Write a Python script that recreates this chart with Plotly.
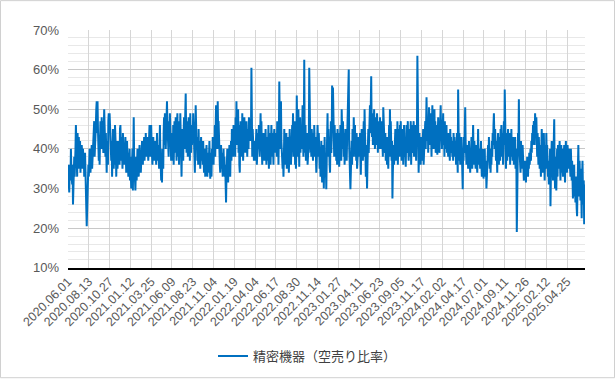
import plotly.graph_objects as go

tick_labels = ["2020.06.01", "2020.08.13", "2020.10.27", "2021.01.12", "2021.03.25",
               "2021.06.09", "2021.08.23", "2021.11.04", "2022.01.19", "2022.04.04",
               "2022.06.17", "2022.08.30", "2022.11.14", "2023.01.27", "2023.04.11",
               "2023.06.23", "2023.09.05", "2023.11.17", "2024.02.02", "2024.04.17",
               "2024.07.01", "2024.09.11", "2024.11.26", "2025.02.12", "2025.04.25"]

series_name = "精密機器（空売り比率）"

# short-selling ratio (%), one value per trading day
short_ratio = [
    # 2020.06.01 -
    33, 36, 31, 29, 34, 36, 32, 40, 35, 33,
    31, 36, 26, 30, 34, 38, 33, 35, 40, 46,
    42, 37, 33, 44, 39, 35, 43, 38, 36, 42,
    34, 40, 37, 41, 39, 35, 40, 37, 38, 33,
    36, 39, 28, 31, 25, 20.5, 27, 30, 33, 36,
    # 2020.08.13 -
    33, 36, 40, 38, 34, 39, 37, 41, 35, 38,
    42, 40, 45, 47, 38, 44, 41, 46, 50, 52,
    44, 52, 45, 40, 37, 43, 36, 42, 47, 44,
    40, 48, 43, 47, 41, 39, 45, 50, 46, 42,
    38, 44, 40, 34, 42, 39, 36, 47, 49, 44,
    # 2020.10.27 -
    49, 46, 43, 40, 37, 42, 33, 39, 45, 38,
    35, 41, 36, 46, 44, 40, 33, 38, 42, 35,
    39, 37, 42, 40, 36, 45, 46, 41, 37, 43,
    39, 35, 44, 38, 41, 36, 40, 37, 43, 39,
    34, 38, 42, 36, 39, 33, 37, 35, 40, 32,
    # 2021.01.12 -
    38, 34, 30, 36, 33, 40, 29.5, 35, 48, 38,
    31, 36, 29.5, 34, 38, 32, 36, 40, 35, 38,
    33, 37, 41, 36, 39, 34, 40, 37, 42, 38,
    36, 41, 39, 43, 37, 40, 38, 44, 39, 41,
    38, 43, 40, 37, 42, 39, 46, 41, 38, 43,
    # 2021.03.25 -
    46, 41, 38, 36, 40, 43, 39, 37, 41, 38,
    42, 40, 36, 39, 44, 38, 41, 37, 39, 35,
    43, 46, 39, 34, 32, 36, 31.5, 40, 38, 35,
    44, 48, 41, 49, 45, 40, 47, 50, 52, 46,
    41, 44, 38, 47, 43, 49, 40, 46, 37, 42,
    # 2021.06.09 -
    40, 44, 37, 46, 36, 41, 47, 39, 45, 48,
    42, 37, 46, 49, 41, 38, 44, 36, 47, 40,
    49, 43, 38, 33, 41, 45, 39, 37, 44, 48,
    40, 46, 42, 54, 45, 39, 47, 41, 38, 43,
    48, 40, 45, 37, 49, 42, 39, 46, 41, 44,
    # 2021.08.23 -
    44, 49, 41, 45, 38, 34, 43, 51, 46, 40,
    43, 37, 41, 36, 45, 39, 42, 38, 35, 40,
    43, 37, 41, 39, 36, 42, 38, 34, 40, 37,
    33, 38, 35, 41, 37, 33, 39, 36, 34, 38,
    42, 36, 32.5, 39, 35, 33, 40, 37, 43, 41,
    # 2021.11.04 -
    36, 42, 39, 46, 38, 45, 51, 43, 48, 40,
    52, 44, 47, 39, 42, 36, 34, 38, 41, 35,
    39, 36, 33, 37, 40, 35, 38, 33, 36, 31,
    26.5, 33, 37, 40, 35, 31.5, 38, 36, 41, 37,
    33, 39, 42, 37, 45, 40, 43, 38, 46, 41,
    # 2022.01.19 -
    40, 45, 38, 48, 43, 52, 41, 47, 44, 50,
    39, 46, 36, 34, 42, 47, 40, 45, 38, 49,
    43, 37, 46, 41, 48, 44, 39, 45, 42, 47,
    41, 38, 45, 43, 40, 48, 44, 47, 42, 46,
    45, 60.5, 42, 38, 45, 40, 44, 37, 42, 41,
    # 2022.04.04 -
    37, 43, 39, 45, 36, 41, 38, 44, 40, 46,
    42, 38, 45, 49, 41, 47, 40, 36, 43, 39,
    44, 40, 37, 42, 38, 45, 41, 36, 39, 43,
    37, 41, 46, 35, 40, 38, 44, 36, 41, 46,
    42, 38, 44, 40, 36, 43, 45, 39, 44, 41,
    # 2022.06.17 -
    41, 44, 38, 47, 40, 45, 36, 43, 57, 46,
    40, 44, 52, 42, 38, 41, 35, 39, 33, 37,
    45, 39, 36, 42, 38, 44, 35, 40, 37, 43,
    39, 34, 41, 45, 38, 42, 36, 44, 40, 46,
    42, 49, 38, 44, 40, 47, 36, 43, 35, 39,
    # 2022.08.30 -
    53.5, 44, 38, 46, 50, 41, 35.5, 44, 48, 39,
    45, 42, 40, 47, 51, 43, 38, 45, 62.5, 44,
    39, 46, 37, 41, 42, 44, 36, 40, 38, 42,
    60.5, 43, 46, 39, 41, 38, 45, 40, 43, 37,
    44, 39, 46, 41, 38, 43, 40, 34, 37, 40,
    # 2022.11.14 -
    46, 42, 38, 44, 39, 35, 40, 33, 37, 42,
    36, 31.5, 38, 34, 41, 30, 36, 43, 33, 39,
    35, 29.8, 37, 44, 49, 40, 45, 38, 41, 36,
    34, 42, 47, 39, 43, 56, 45, 55.5, 41, 44,
    38, 46, 41, 39, 44, 37, 42, 36, 45, 40,
    # 2023.01.27 -
    39, 44, 35.5, 41, 38, 46, 42, 37, 50, 45,
    40, 47, 43, 38, 44, 36, 41, 45, 39, 43,
    37, 42, 48, 44, 51, 60, 41, 38, 35, 29.8,
    34, 39, 42, 36, 45, 41, 38, 48, 43, 40,
    46, 38, 42, 37, 44, 35, 40, 36, 41, 43,
    # 2023.04.11 -
    41, 38, 44, 36, 33.5, 40, 45, 39, 43, 37,
    42, 47, 38, 50, 44, 40, 33, 41, 37, 30,
    36, 42, 45, 39, 43, 47, 51, 44, 49, 58.3,
    46, 43, 49, 41, 47, 44, 50, 45, 40, 48,
    43, 46, 41, 49, 44, 39, 47, 42, 45, 40,
    # 2023.06.23 -
    48, 44, 46, 40, 47, 42, 45, 38, 50.5, 43,
    46, 41, 39, 44, 37, 42, 40, 36, 43, 39,
    35, 41, 46, 38, 50, 43, 47, 40, 37, 42,
    27.5, 34, 38, 41, 36, 43, 39, 45, 37, 41,
    44, 39, 47, 36, 42, 45, 40, 38, 46, 43,
    # 2023.09.05 -
    47, 42, 37, 44, 39, 45, 36, 41, 46, 38,
    43, 40, 35.5, 42, 46, 39, 44, 47, 41, 37,
    45, 40, 38, 43, 47, 36, 42, 46, 39, 44,
    41, 47, 38, 43, 40, 46, 42, 37, 44, 45,
    63.5, 46, 42, 34, 39, 44, 37, 41, 36, 43,
    # 2023.11.17 -
    40, 37, 43, 39, 45, 36, 41, 38, 44, 47,
    40, 44, 53, 46, 42, 48, 39, 45, 50.5, 43,
    47, 41, 49, 44, 38, 46, 51, 43, 48, 40,
    45, 50, 42, 47, 39, 44, 41, 46, 38.5, 43,
    48, 40, 45, 39, 47, 42, 51, 44, 46, 40,
    # 2024.02.02 -
    46, 43, 49, 41, 45, 38, 47, 42, 44, 40,
    46, 39, 43, 41, 38, 44, 40, 42, 37, 45,
    40, 43, 39, 42, 38, 41, 37, 44, 39, 43,
    41, 38, 42, 36, 40, 44, 38, 34, 55, 41,
    37, 44, 39, 36, 41, 38, 43, 40, 35, 29.8,
    # 2024.04.17 -
    40, 37, 43, 39, 45, 50.5, 42, 38, 36, 40,
    37, 41, 35, 39, 42, 36, 38, 34, 40, 37,
    43, 38, 35, 41, 46, 39, 36, 42, 37, 40,
    35, 38, 41, 36, 34, 39, 45, 38, 36, 40,
    37, 35, 39, 42, 36, 33, 38, 35, 40, 32.5,
    # 2024.07.01 -
    38, 35, 40, 33, 37, 36, 30, 34, 39, 36,
    41, 37, 43, 38, 35, 40, 34, 39, 36, 42,
    38, 44, 41, 46, 49, 43, 40, 45, 39, 37,
    42, 38, 34, 41, 44, 39, 36, 43, 40, 37,
    45, 41, 46, 38, 40, 44, 36, 42, 47, 41,
    # 2024.09.11 -
    55, 42, 47, 35, 40, 44, 37, 42, 45, 38,
    43, 40, 44, 36, 41, 39, 45, 38, 42, 37,
    43, 40, 36, 41, 38, 43, 35, 40, 37, 19,
    33, 38, 44, 40, 52.5, 41, 36, 39, 34, 42,
    38, 40, 35, 41, 37, 39, 32, 37, 35, 34,
    # 2024.11.26 -
    35, 31.5, 37, 34, 38, 36, 33, 37, 35, 39,
    36, 38, 40, 37, 42, 39, 44, 41, 46, 43,
    47, 44, 41, 49, 45, 43, 48, 42, 38, 44,
    40, 36, 43, 39, 35, 41, 37, 33, 40, 45,
    38, 34, 42, 36, 44, 39, 32, 37, 41, 35,
    # 2025.02.12 -
    44, 38, 41, 35, 33, 37, 31, 36, 34, 40,
    25.5, 33, 38, 42, 36, 39, 32, 44, 37, 47.5,
    35, 30, 38, 34, 29.5, 36, 40, 33, 41, 37,
    35, 39, 42, 36, 32, 38, 41, 34, 40, 36,
    33, 39, 37, 41, 35, 31.5, 38, 42, 36, 34,
    # 2025.04.25 -
    34, 41, 37, 39, 35, 40, 36, 38, 33, 40,
    35, 32, 37, 34, 27.5, 33, 30, 36, 28, 31,
    26.5, 33, 29, 25, 23, 30, 36, 41, 33, 28,
    37, 31, 27, 35, 29, 22.5, 33, 37, 30, 26,
    32, 21, 28, 31,
]

tick_step = 50
x_index = list(range(len(short_ratio)))
tick_positions = [i * tick_step for i in range(len(tick_labels))]

fig = go.Figure()
fig.add_trace(go.Scatter(
    x=x_index, y=short_ratio, mode="lines", name=series_name,
    line=dict(color="#0070C0", width=2),
))

W, H = 615, 380
ml, mr, mt, mb = 68, 30, 30, 111
pw, ph = W - ml - mr, H - mt - mb

fig.update_layout(
    width=W, height=H,
    margin=dict(l=ml, r=mr, t=mt, b=mb),
    paper_bgcolor="white", plot_bgcolor="white",
    font=dict(family="Liberation Sans, Arial, Noto Sans CJK JP", color="#595959"),
    showlegend=True,
    legend=dict(
        orientation="h", xref="container", yref="container",
        x=0.5, xanchor="center", y=0.063, yanchor="middle",
        font=dict(family="Noto Sans CJK JP", size=13, color="#404040"),
    ),
    xaxis=dict(
        range=[0, len(short_ratio) - 1],
        tickmode="array", tickvals=tick_positions, ticktext=tick_labels,
        tickangle=-45, tickfont=dict(size=12.5, color="#595959"),
        showgrid=True, gridcolor="#d6d6d6", gridwidth=1,
        showline=True, linecolor="#000000", linewidth=1.5,
        ticks="", zeroline=False,
    ),
    yaxis=dict(
        range=[10, 70], dtick=10, ticksuffix="%",
        tickfont=dict(size=13, color="#595959"),
        showgrid=True, gridcolor="#c8c8c8", gridwidth=1,
        minor=dict(dtick=2, showgrid=True, gridcolor="#e8e8e8", gridwidth=1),
        showline=False, zeroline=False, ticks="",
        ticklabelstandoff=8,
    ),
    shapes=[dict(
        type="rect", xref="paper", yref="paper",
        x0=(-ml + 0.5) / pw, x1=1 + (mr - 0.5) / pw,
        y0=-(mb - 0.5) / ph, y1=1 + (mt - 0.5) / ph,
        line=dict(color="#d0d0d0", width=1), layer="below",
    )],
)

fig.write_html("out.html")
